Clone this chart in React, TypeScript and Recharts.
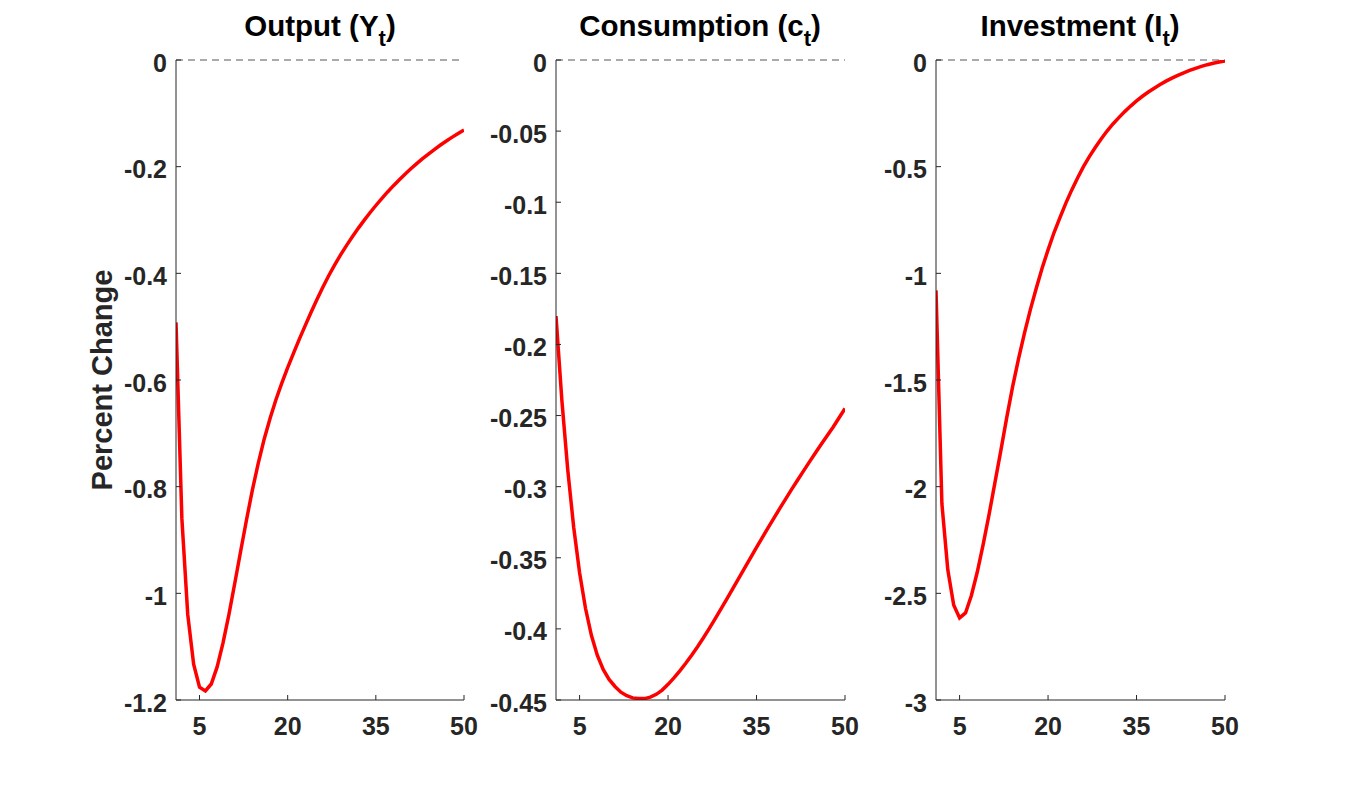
import React from 'react';
import { LineChart, Line, XAxis, YAxis, ReferenceLine } from 'recharts';

const periods = [1, 2, 3, 4, 5, 6, 7, 8, 9, 10, 11, 12, 13, 14, 15, 16, 17, 18, 19, 20, 21, 22, 23, 24, 25, 26, 27, 28, 29, 30, 31, 32, 33, 34, 35, 36, 37, 38, 39, 40, 41, 42, 43, 44, 45, 46, 47, 48, 49, 50];

const outputValues = [
  -0.492, -0.86, -1.04, -1.133, -1.176, -1.183, -1.17, -1.138, -1.093, -1.04,
  -0.981, -0.921, -0.862, -0.806, -0.756, -0.711, -0.672, -0.637, -0.606, -0.577,
  -0.5495, -0.523, -0.4975, -0.4725, -0.4485, -0.4255, -0.404, -0.384, -0.3655, -0.348,
  -0.3315, -0.3157, -0.3007, -0.2864, -0.2728, -0.2598, -0.2474, -0.2356, -0.2244, -0.2137,
  -0.2035, -0.1938, -0.1846, -0.1758, -0.1674, -0.1594, -0.1518, -0.1446, -0.1377, -0.1311,
];

const consumptionValues = [
  -0.18, -0.2395, -0.2885, -0.3285, -0.3605, -0.3855, -0.4045, -0.4185, -0.4285, -0.4355,
  -0.4405, -0.4445, -0.447, -0.4485, -0.449, -0.449, -0.448, -0.446, -0.443, -0.439,
  -0.4345, -0.4295, -0.4242, -0.4185, -0.4125, -0.4062, -0.3996, -0.3928, -0.3858, -0.3787,
  -0.3715, -0.3643, -0.3571, -0.3499, -0.3427, -0.3356, -0.3286, -0.3217, -0.3149, -0.3082,
  -0.3016, -0.2951, -0.2887, -0.2824, -0.2762, -0.27, -0.264, -0.258, -0.2515, -0.245,
];

const investmentValues = [
  -1.08, -2.08, -2.39, -2.555, -2.615, -2.592, -2.51, -2.4, -2.27, -2.13,
  -1.98, -1.83, -1.675, -1.53, -1.4, -1.28, -1.17, -1.07, -0.975, -0.89,
  -0.81, -0.74, -0.672, -0.61, -0.553, -0.5, -0.453, -0.41, -0.37, -0.333,
  -0.3, -0.27, -0.242, -0.216, -0.192, -0.17, -0.15, -0.132, -0.115, -0.099,
  -0.085, -0.072, -0.06, -0.049, -0.039, -0.03, -0.022, -0.015, -0.009, -0.004,
];

const xTicks = [5, 20, 35, 50];
const outputTicks = [0, -0.2, -0.4, -0.6, -0.8, -1, -1.2];
const consumptionTicks = [0, -0.05, -0.1, -0.15, -0.2, -0.25, -0.3, -0.35, -0.4, -0.45];
const investmentTicks = [0, -0.5, -1, -1.5, -2, -2.5, -3];

const FONT = '"Liberation Sans", Arial, Helvetica, sans-serif';
const INK = '#262626';

const buildRows = (values: number[]) => periods.map((t, i) => ({ t, v: values[i] }));

const YTick = (props: any) => {
  const { x, y, payload } = props;
  return (
    <g>
      <line x1={x} x2={x + 5} y1={y} y2={y} stroke={INK} strokeWidth={1} />
      <text x={x - 9} y={y + 11.5} textAnchor="end" fontFamily={FONT} fontWeight="bold" fontSize={25} fill={INK}>
        {String(payload.value)}
      </text>
    </g>
  );
};

const XTick = (props: any) => {
  const { x, y, payload } = props;
  return (
    <g>
      <line x1={x} x2={x} y1={y} y2={y - 5} stroke={INK} strokeWidth={1} />
      <text x={x} y={y + 34.5} textAnchor="middle" fontFamily={FONT} fontWeight="bold" fontSize={25} fill={INK}>
        {String(payload.value)}
      </text>
    </g>
  );
};

type PanelProps = {
  left: number;
  plotWidth: number;
  values: number[];
  ticks: number[];
};

const AXIS_W = 120;
const RIGHT_PAD = 40;

const Panel = ({ left, plotWidth, values, ticks }: PanelProps) => {
  const rows = buildRows(values);
  const min = ticks[ticks.length - 1];
  return (
    <div style={{ position: 'absolute', left: left - AXIS_W, top: 0 }}>
      <LineChart
        width={AXIS_W + plotWidth + RIGHT_PAD}
        height={787}
        data={rows}
        margin={{ top: 60, right: RIGHT_PAD, bottom: 0, left: 0 }}
      >
        <XAxis
          type="number"
          dataKey="t"
          domain={[1, 50]}
          ticks={xTicks}
          interval={0}
          height={87}
          tickSize={0}
          tickMargin={0}
          tickLine={false}
          tick={XTick}
          axisLine={{ stroke: INK, strokeWidth: 1 }}
          allowDataOverflow
        />
        <YAxis
          type="number"
          domain={[min, 0]}
          ticks={ticks}
          interval={0}
          width={AXIS_W}
          tickSize={0}
          tickMargin={0}
          tickLine={false}
          tick={YTick}
          axisLine={{ stroke: INK, strokeWidth: 1 }}
          allowDataOverflow
        />
        <ReferenceLine y={0} stroke="#555555" strokeDasharray="7 5" strokeWidth={1} />
        <Line
          type="linear"
          dataKey="v"
          stroke="#ff0000"
          strokeWidth={3.5}
          dot={false}
          activeDot={false}
          isAnimationActive={false}
        />
      </LineChart>
    </div>
  );
};

const titles = [
  { cx: 320, main: 'Output (Y', sub: 't' },
  { cx: 700, main: 'Consumption (c', sub: 't' },
  { cx: 1080, main: 'Investment (I', sub: 't' },
];

export default function App() {
  return (
    <div style={{ position: 'absolute', left: 0, top: 0, width: 1354, height: 787, background: '#ffffff', overflow: 'hidden' }}>
      <Panel left={176} plotWidth={288} values={outputValues} ticks={outputTicks} />
      <Panel left={556} plotWidth={289} values={consumptionValues} ticks={consumptionTicks} />
      <Panel left={936} plotWidth={289} values={investmentValues} ticks={investmentTicks} />
      <svg width={1354} height={787} style={{ position: 'absolute', left: 0, top: 0, pointerEvents: 'none' }}>
        {titles.map((t) => (
          <text key={t.main} x={t.cx} y={36} textAnchor="middle" fontFamily={FONT} fontWeight="bold" fontSize={29.5} fill="#000000">
            {t.main}
            <tspan fontSize={22} dy={10}>{t.sub}</tspan>
            <tspan dy={-10}>)</tspan>
          </text>
        ))}
        <text
          x={112}
          y={380}
          textAnchor="middle"
          fontFamily={FONT}
          fontWeight="bold"
          fontSize={29}
          fill={INK}
          transform="rotate(-90 112 380)"
        >
          Percent Change
        </text>
      </svg>
    </div>
  );
}
